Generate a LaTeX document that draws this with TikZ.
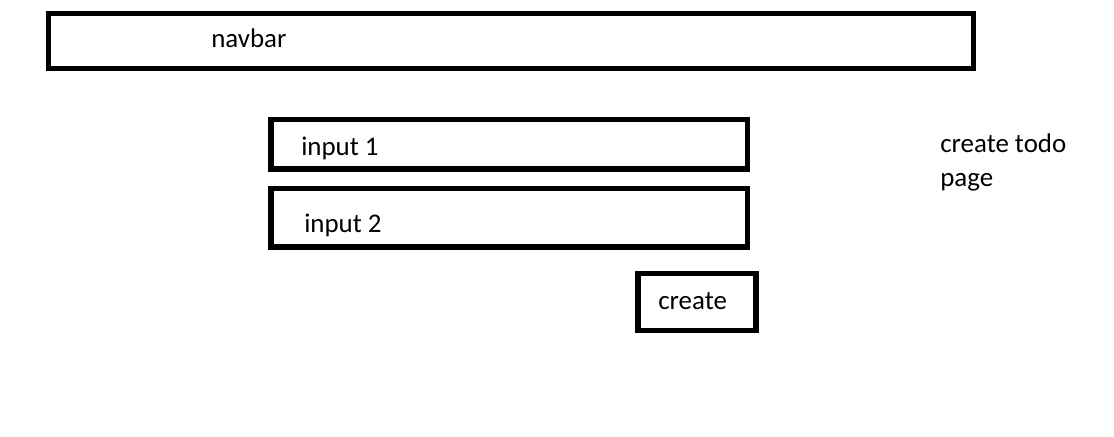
\documentclass[tikz,border=0pt]{standalone}
\usepackage{fontspec}
\setmainfont{Carlito}
\begin{document}
\begin{tikzpicture}[x=0.75pt,y=-0.75pt,
  box/.style={draw=black,line width=3.9pt,anchor=north west,inner sep=0pt,outer sep=0pt},
  lbl/.style={anchor=base west,inner sep=0pt,font=\fontsize{20.2}{25.5}\selectfont}]
\useasboundingbox (0,0) rectangle (1114,436);
\node[box,minimum width=925*0.75pt,minimum height=55*0.75pt] (navbar) at (48.5,13.5) {};
\node[lbl] (navbartext) at (211,47) {navbar};
\node[box,minimum width=476.5*0.75pt,minimum height=49.5*0.75pt] (input1) at (271,119.5) {};
\node[lbl] (input1text) at (301,155) {input 1};
\node[box,minimum width=476.5*0.75pt,minimum height=58.5*0.75pt] (input2) at (271,188.5) {};
\node[lbl] (input2text) at (304,232) {input 2};
\node[box,minimum width=118*0.75pt,minimum height=57*0.75pt] (create) at (638,273.5) {};
\node[lbl] (createtext) at (658,309) {create};
\node[lbl,align=left] (title) at (940,186) {create todo\\page};
\end{tikzpicture}
\end{document}
